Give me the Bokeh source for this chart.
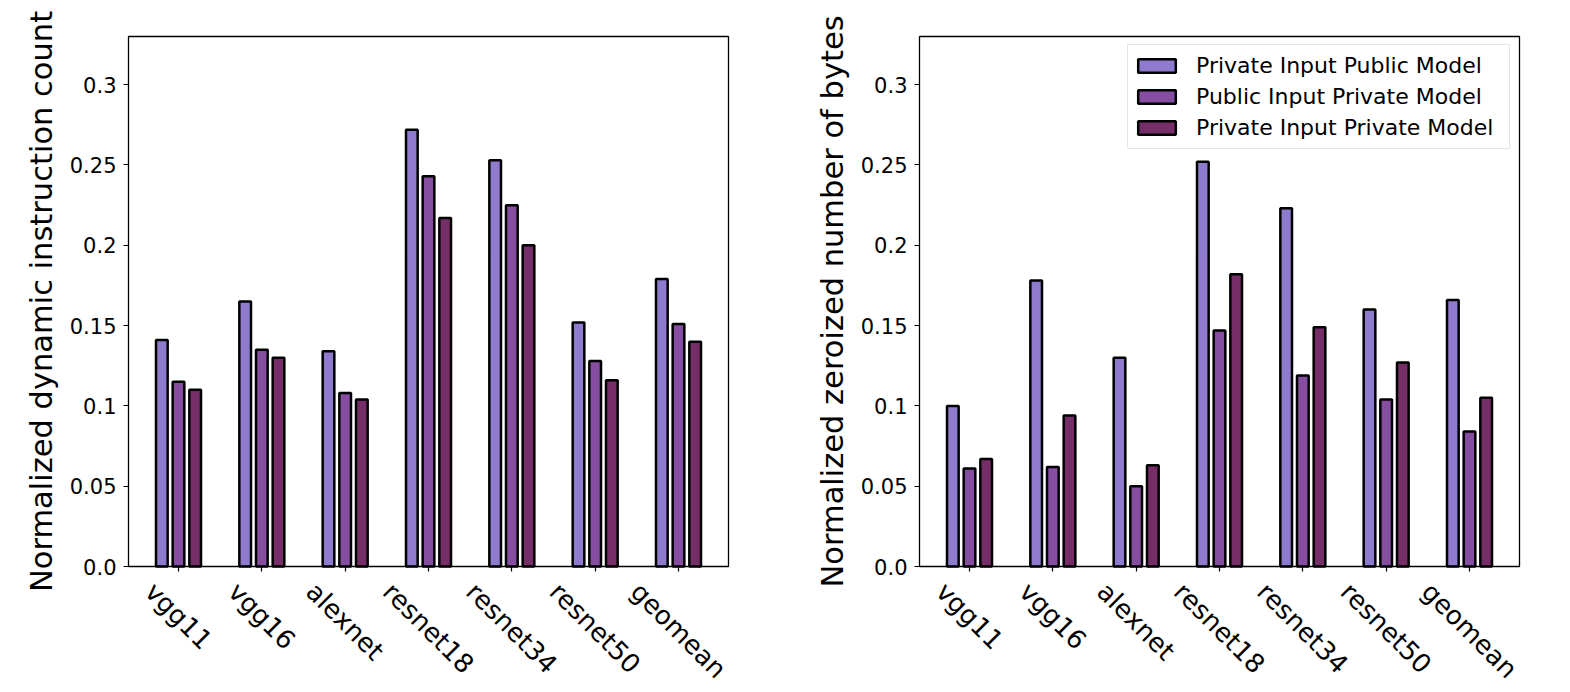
import math
import numpy as np
from bokeh.plotting import figure
from bokeh.models import Range1d, FixedTicker, LinearAxis, BoxAnnotation
from bokeh.layouts import row
from bokeh.core.properties import value
from bokeh.embed import file_html
from bokeh.resources import INLINE

# ---------------- data ----------------
categories = ["vgg11", "vgg16", "alexnet", "resnet18", "resnet34", "resnet50", "geomean"]
series_names = ["Private Input Public Model", "Public Input Private Model", "Private Input Private Model"]

# Left: normalized dynamic instruction count
instr_priv_in_pub_model = [0.141, 0.165, 0.134, 0.272, 0.253, 0.152, 0.179]
instr_pub_in_priv_model = [0.115, 0.135, 0.108, 0.243, 0.225, 0.128, 0.151]
instr_priv_in_priv_model = [0.110, 0.130, 0.104, 0.217, 0.200, 0.116, 0.140]

# Right: normalized zeroized number of bytes
bytes_priv_in_pub_model = [0.100, 0.178, 0.130, 0.252, 0.223, 0.160, 0.166]
bytes_pub_in_priv_model = [0.061, 0.062, 0.050, 0.147, 0.119, 0.104, 0.084]
bytes_priv_in_priv_model = [0.067, 0.094, 0.063, 0.182, 0.149, 0.127, 0.105]

y_ticks = [0.0, 0.05, 0.1, 0.15, 0.2, 0.25, 0.3]
y_tick_labels = ["0.0", "0.05", "0.1", "0.15", "0.2", "0.25", "0.3"]

# ---------------- style / layout ----------------
COLORS = ["#8f7bcd", "#854ea0", "#762e68"]
FONT = "DejaVu Sans"
OFFSETS = [-0.2, 0.0, 0.2]
BAR_W = 0.14
XLAB_FS = 26
X_START, X_END = -0.6, 6.6
Y_START, Y_END = 0.0, 0.33
AREA_W, AREA_H = 600, 530      # plotting area in px
TOP_PX = 36                    # area top from canvas top
CANVAS_H = 684
TICK_LEN = 5

# DejaVu Sans advance widths (units per em = 2048)
CHAR_W = {"v": 1212, "g": 1300, "1": 1303, "6": 1303, "a": 1255, "l": 569, "e": 1260,
          "x": 1212, "n": 1298, "t": 803, "r": 842, "s": 1067, "8": 1303, "3": 1303,
          "4": 1303, "5": 1303, "0": 1303, "o": 1253, "m": 1995}


def text_width(s, fs):
    return sum(CHAR_W.get(c, 1250) for c in s) / 2048.0 * fs


def make_panel(series, ylabel, left_px, right_px, legend_pos=None):
    width = left_px + AREA_W + right_px
    upp = (X_END - X_START) / AREA_W
    vpp = (Y_END - Y_START) / AREA_H
    bottom_px = CANVAS_H - TOP_PX - AREA_H
    p = figure(width=width, height=CANVAS_H, output_backend="svg", toolbar_location=None,
               x_axis_location=None, y_axis_location=None,
               x_range=Range1d(X_START - left_px * upp, X_END + right_px * upp),
               y_range=Range1d(Y_START - bottom_px * vpp, Y_END + TOP_PX * vpp),
               min_border_left=0, min_border_right=0, min_border_top=0, min_border_bottom=0)
    p.grid.visible = False
    p.outline_line_color = None
    p.background_fill_color = "white"
    p.border_fill_color = "white"

    idx = np.arange(len(categories))
    for k, (vals, name, col) in enumerate(zip(series, series_names, COLORS)):
        kw = dict(legend_label=name) if legend_pos is not None else {}
        p.vbar(x=idx + OFFSETS[k], top=vals, width=BAR_W, fill_color=col,
               line_color="black", line_width=2.5, **kw)

    # axes frame (spines)
    p.add_layout(BoxAnnotation(left=X_START, right=X_END, bottom=Y_START, top=Y_END,
                               fill_color=None, fill_alpha=0, line_color="black",
                               line_alpha=1.0, line_width=1.3))

    # y axis
    yax = LinearAxis(fixed_location=X_START, bounds=(Y_START, Y_END),
                     ticker=FixedTicker(ticks=y_ticks),
                     major_label_overrides=dict(zip(y_ticks, y_tick_labels)))
    yax.axis_line_color = None
    yax.major_tick_out = TICK_LEN
    yax.major_tick_in = 0
    yax.minor_tick_out = 0
    yax.minor_tick_in = 0
    yax.major_tick_line_color = "black"
    yax.major_tick_line_width = 1.2
    yax.major_label_text_font = FONT
    yax.major_label_text_font_size = "21px"
    yax.major_label_text_color = "black"
    yax.major_label_standoff = 7
    yax.axis_label = ylabel
    yax.axis_label_text_font = FONT
    yax.axis_label_text_font_size = "30.5px"
    yax.axis_label_text_font_style = "normal"
    yax.axis_label_text_color = "black"
    yax.axis_label_standoff = 8
    p.add_layout(yax, "left")

    # x axis (ticks only; labels drawn rotated below)
    xax = LinearAxis(fixed_location=Y_START, bounds=(X_START, X_END),
                     ticker=FixedTicker(ticks=list(range(len(categories)))),
                     major_label_overrides={i: "" for i in range(len(categories))})
    xax.axis_line_color = None
    xax.major_tick_out = TICK_LEN
    xax.major_tick_in = 0
    xax.minor_tick_out = 0
    xax.minor_tick_in = 0
    xax.major_tick_line_color = "black"
    xax.major_tick_line_width = 1.2
    p.add_layout(xax, "below")

    # rotated category labels, bounding box centred on each tick
    h = 1.17 * XLAB_FS
    xoffs = [-(text_width(c, XLAB_FS) - h) / (2 * math.sqrt(2)) for c in categories]
    p.text(x=idx, y=Y_START, text=categories, x_offset=xoffs, y_offset=TICK_LEN + 5,
           angle=-math.pi / 4, text_align="left", text_baseline="top",
           text_font=value(FONT), text_font_size=value(f"{XLAB_FS}px"),
           text_color="black")

    if legend_pos is not None:
        lg = p.legend[0]
        lg.location = legend_pos
        lg.margin = 0
        lg.padding = 5
        lg.spacing = 0
        lg.glyph_width = 47
        lg.glyph_height = 17
        lg.label_standoff = 16
        lg.label_height = 31
        lg.label_width = 308
        lg.label_text_font = FONT
        lg.label_text_font_size = "22px"
        lg.label_text_color = "black"
        lg.border_line_color = "#cccccc"
        lg.border_line_width = 1
        lg.background_fill_alpha = 0.8
    return p


left = make_panel([instr_priv_in_pub_model, instr_pub_in_priv_model, instr_priv_in_priv_model],
                  "Normalized dynamic instruction count", 128, 40)
# legend: bottom-left corner in px from the canvas bottom-left
right = make_panel([bytes_priv_in_pub_model, bytes_pub_in_priv_model, bytes_priv_in_priv_model],
                   "Normalized zeroized number of bytes", 151, 43, legend_pos=(359, 535))

layout = row(left, right, spacing=0)
open("out.html", "w").write(file_html(layout, INLINE))
